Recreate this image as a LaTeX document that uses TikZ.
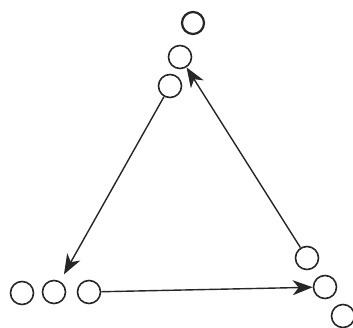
\documentclass[tikz,border=0pt]{standalone}
\usetikzlibrary{arrows.meta}
\begin{document}
\begin{tikzpicture}[x=1pt,y=-1pt,
  dot/.style={circle,draw=black!85,line width=1.6pt,minimum size=23pt,inner sep=0pt},
  link/.style={draw=black!85,line width=1.4pt,-{Stealth[length=20pt,width=15pt,inset=6pt]}}]
\useasboundingbox (0,0) rectangle (353,328);
\node[dot,line width=2.2pt,minimum size=22pt] (t) at (193,23) {};
\node[dot] (c2) at (180,57) {};
\node[dot] (c3) at (170,86) {};
\node[dot] (b1) at (22,293) {};
\node[dot] (b2) at (54,292) {};
\node[dot] (b3) at (89,292) {};
\node[dot] (r1) at (307,258) {};
\node[dot] (r2) at (325,287) {};
\node[dot] (r3) at (343,316) {};
\draw[link,shorten >=8pt] (c3) -- (b2);
\draw[link] (b3) -- (r2);
\draw[link] (r1) -- (c2);
\end{tikzpicture}
\end{document}
